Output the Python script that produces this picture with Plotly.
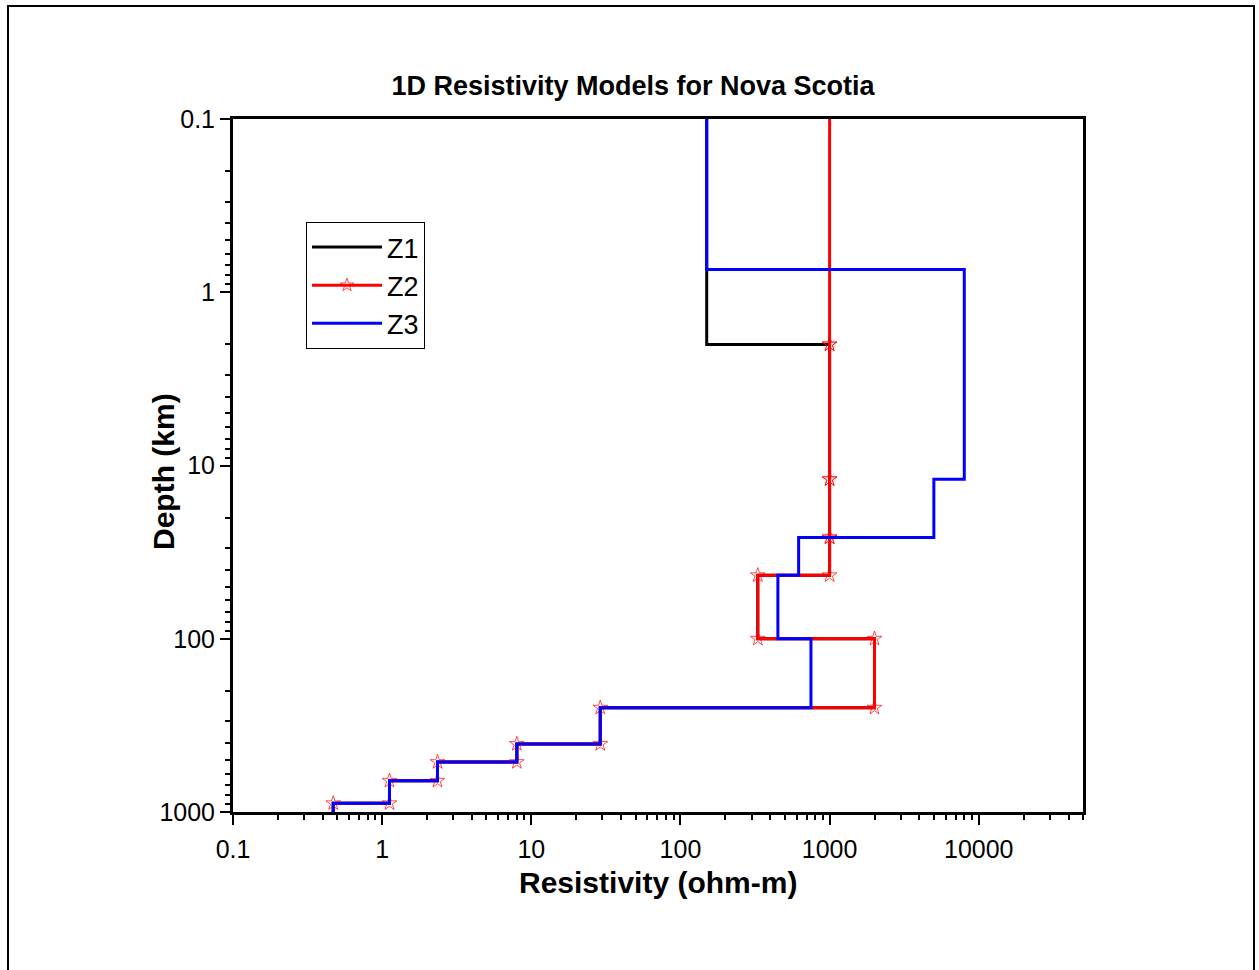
import math
import plotly.graph_objects as go

# ---- data ----
# layer boundaries (depth, km) and layer resistivities (ohm-m)
z1_depths = [0.1, 2.0, 12.0, 26.0, 43.0, 100, 250, 405, 515, 660, 890, 1000]
z1_res = [150, 1000, 1000, 1000, 330, 2000, 29, 8, 2.35, 1.12, 0.47]

z2_depths = [0.1, 2.0, 12.0, 26.0, 43.0, 100, 250, 405, 515, 660, 890, 1000]
z2_res = [1000, 1000, 1000, 1000, 330, 2000, 29, 8, 2.35, 1.12, 0.47]

z3_depths = [0.1, 0.74, 12.0, 26.0, 43.0, 100, 250, 405, 515, 660, 890, 1000]
z3_res = [150, 8000, 5000, 620, 450, 750, 29, 8, 2.35, 1.12, 0.47]

x_tickvals = [0.1, 1, 10, 100, 1000, 10000]
x_ticktext = ["0.1", "1", "10", "100", "1000", "10000"]
y_tickvals = [0.1, 1, 10, 100, 1000]
y_ticktext = ["0.1", "1", "10", "100", "1000"]
x_range = [0.1, 50000]
y_range = [0.1, 1000]


def step_profile(depths, res):
    xs, ys = [], []
    for i, r in enumerate(res):
        xs += [r, r]
        ys += [depths[i], depths[i + 1]]
    return xs, ys


FONT = "Liberation Sans, Arial, sans-serif"

fig = go.Figure()

x1, y1 = step_profile(z1_depths, z1_res)
fig.add_trace(go.Scatter(x=x1, y=y1, mode="lines", name="Z1",
                         line=dict(color="black", width=3)))

x2, y2 = step_profile(z2_depths, z2_res)
sizes = [11] * len(x2)
sizes[0] = 0
sizes[-1] = 0
fig.add_trace(go.Scatter(x=x2, y=y2, mode="lines+markers", name="Z2",
                         line=dict(color="#ff0000", width=3),
                         marker=dict(symbol="star-open", size=sizes, color="#ff0000",
                                     line=dict(width=1, color="#ff0000"))))

x3, y3 = step_profile(z3_depths, z3_res)
fig.add_trace(go.Scatter(x=x3, y=y3, mode="lines", name="Z3",
                         line=dict(color="#0000ff", width=3)))

minor_vals = [m * 10 ** e for e in range(-1, 5) for m in range(2, 10)]

L, R, T, B = 233, 176, 119, 158
W, H = 1259, 970
pw, ph = W - L - R, H - T - B

axis_common = dict(
    type="log", ticks="outside", ticklen=10, tickwidth=2, tickcolor="black",
    showline=True, linewidth=3, linecolor="black", mirror=True,
    showgrid=False, zeroline=False,
    tickfont=dict(size=25, family=FONT, color="black"),
    minor=dict(tickvals=minor_vals, ticks="outside", ticklen=5, tickwidth=2,
               tickcolor="black", showgrid=False),
)

fig.update_layout(
    width=W, height=H,
    margin=dict(l=L, r=R, t=T, b=B, autoexpand=False),
    paper_bgcolor="white", plot_bgcolor="white",
    font=dict(family=FONT, color="black"),
    title=dict(text="<b>1D Resistivity Models for Nova Scotia</b>",
               x=(633) / W, xanchor="center", y=1 - 86 / H, yanchor="middle",
               font=dict(size=27, family=FONT, color="black")),
    showlegend=True,
    legend=dict(x=(306 - L) / pw, y=(812 - 222) / ph, xanchor="left", yanchor="top",
                bgcolor="white", bordercolor="black", borderwidth=1,
                itemwidth=70,
                font=dict(size=27, family=FONT, color="black")),
    xaxis=dict(axis_common,
               range=[math.log10(x_range[0]), math.log10(x_range[1])],
               tickvals=x_tickvals, ticktext=x_ticktext, ticklabelstandoff=3),
    yaxis=dict(axis_common,
               range=[math.log10(y_range[1]), math.log10(y_range[0])],
               tickvals=y_tickvals, ticktext=y_ticktext, ticklabelstandoff=0),
    annotations=[
        dict(text="<b>Resistivity (ohm-m)</b>", xref="paper", yref="paper",
             x=(658 - L) / pw, y=-(883 - 812) / ph, xanchor="center", yanchor="middle",
             showarrow=False, font=dict(size=30, family=FONT, color="black")),
        dict(text="<b>Depth (km)</b>", xref="paper", yref="paper", textangle=-90,
             x=-(233 - 163) / pw, y=(812 - 472) / ph, xanchor="center", yanchor="middle",
             showarrow=False, font=dict(size=30, family=FONT, color="black")),
    ],
    shapes=[dict(type="rect", xref="paper", yref="paper",
                 x0=(8 - L) / pw, x1=(1254 - L) / pw,
                 y0=-0.4, y1=(812 - 6) / ph,
                 line=dict(color="black", width=2), layer="below")],
)

fig.write_html("out.html", config={"displayModeBar": False},
               post_script="document.body.style.margin='0';")
